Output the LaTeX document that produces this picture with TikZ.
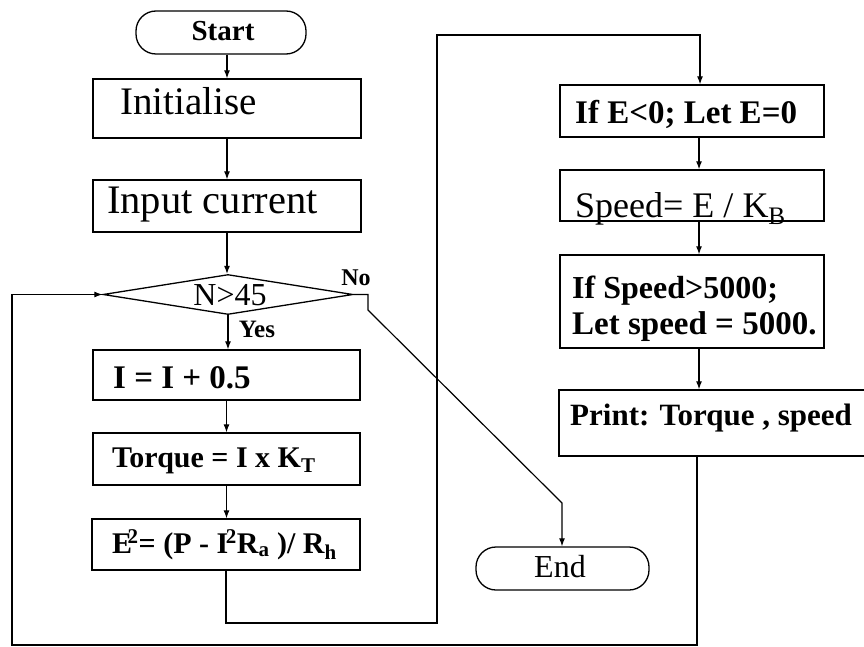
\documentclass[tikz,border=0pt]{standalone}
\usepackage{fontspec}
\setmainfont{Liberation Serif}
\usetikzlibrary{arrows.meta,shapes.geometric}
\newcommand\fsz[1]{\fontsize{#1}{#1}\selectfont}
\begin{document}
\begin{tikzpicture}[x=1pt,y=-1pt,
 box/.style={draw,line width=1.3pt,inner sep=0pt},
 term/.style={box,rounded corners=20pt},
 lbl/.style={anchor=base west,inner sep=0pt},
 clbl/.style={anchor=base,inner sep=0pt},
 ln/.style={line width=1.2pt},
 arr/.style={ln,-{Latex[length=8pt,width=6pt]}},
]
\useasboundingbox (0,0) rectangle (864,647);
\clip (0,0) rectangle (864,647);
% ---------- left column ----------
\node[term,minimum width=170pt,minimum height=43pt] (start) at (221,32.5) {};
\node[clbl,font=\fsz{29}\bfseries] (startT) at (223,41) {Start};
\node[box,minimum width=268pt,minimum height=59pt] (init) at (227,108.5) {};
\node[lbl,font=\fsz{39}] (initT) at (120,115) {Initialise};
\node[box,minimum width=268pt,minimum height=52pt] (input) at (227,206) {};
\node[lbl,font=\fsz{40.5}] (inputT) at (107,213) {Input current};
\node[box,diamond,aspect=6,minimum width=250pt,minimum height=40pt] (dia) at (228,294.5) {};
\node[clbl,font=\fsz{32}] (diaT) at (230,305) {N>45};
\node[clbl,font=\fsz{24}\bfseries] (noT) at (356,285) {No};
\node[clbl,font=\fsz{25}\bfseries] (yesT) at (257,337) {Yes};
\node[box,minimum width=267pt,minimum height=50pt] (iinc) at (226.5,375) {};
\node[lbl,font=\fsz{33}\bfseries] (iincT) at (113,388) {I = I + 0.5};
\node[box,minimum width=267pt,minimum height=52pt] (torque) at (226.5,459) {};
\node[lbl,font=\fsz{30}\bfseries] (torqueT) at (112,467) {Torque = I x K\textsubscript{T}};
\node[box,minimum width=268pt,minimum height=51pt] (e2) at (226,544.5) {};
\node[lbl,font=\fsz{30}\bfseries] (e2T) at (112,553) {E\kern-0.15em\textsuperscript{2}= (P - I\kern-0.08em\textsuperscript{2}R\textsubscript{a} )/ R\textsubscript{h}};
% ---------- right column ----------
\node[box,minimum width=264pt,minimum height=52pt] (ife) at (692,111) {};
\node[lbl,font=\fsz{33}\bfseries] (ifeT) at (575,124) {If E<0; Let E=0};
\node[box,minimum width=264pt,minimum height=51pt] (spd) at (692,195.5) {};
\node[lbl,font=\fsz{36}] (spdT) at (575,217) {Speed= E / K\textsubscript{B}};
\node[box,minimum width=264pt,minimum height=93pt] (ifs) at (692,301.5) {};
\node[lbl,font=\fsz{32}\bfseries] (ifsT1) at (572,298) {If Speed>5000;};
\node[lbl,font=\fsz{33}\bfseries] (ifsT2) at (572,334) {Let speed = 5000.};
\node[box,minimum width=340pt,minimum height=66pt] (prt) at (729,423) {};
\node[lbl,font=\fsz{31}\bfseries] (prtT) at (570,425) {Print: Torque , speed};
\node[term,minimum width=173pt,minimum height=43pt] (end) at (562.5,568.5) {};
\node[clbl,font=\fsz{32}] (endT) at (560,577) {End};
% ---------- helper points ----------
\coordinate (r1) at (437,623);
\coordinate (r2) at (437,35);
\coordinate (r3) at (700,35);
\coordinate (rx) at (699,0);
\coordinate (b1) at (697,645);
\coordinate (b2) at (12,645);
\coordinate (n1) at (368,294.5);
\coordinate (n2) at (368,310);
\coordinate (n3) at (562,503);
% ---------- connectors ----------
\draw[arr] (init.north |- start.south) -- (init.north);
\draw[arr] (init.south) -- (input.north);
\draw[arr] (input.south) -- (input.south |- dia.north);
\draw[arr] (dia.south) -- (dia.south |- iinc.north);
\draw[arr] (iinc.south) -- (iinc.south |- torque.north);
\draw[arr] (torque.south) -- (torque.south |- e2.north);
\draw[arr] (e2.south) |- (r1) -- (r2) -- (r3) -- (r3 |- ife.north);
\draw[arr] (rx |- ife.south) -- (rx |- spd.north);
\draw[arr] (rx |- spd.south) -- (rx |- ifs.north);
\draw[arr] (rx |- ifs.south) -- (rx |- prt.north);
\draw[arr] (b1 |- prt.south) -- (b1) -- (b2) -- (b2 |- dia.west) -- (dia.west);
\draw[arr] (dia.east) -- (n1) -- (n2) -- (n3) -- (n3 |- end.north);
\end{tikzpicture}
\end{document}
